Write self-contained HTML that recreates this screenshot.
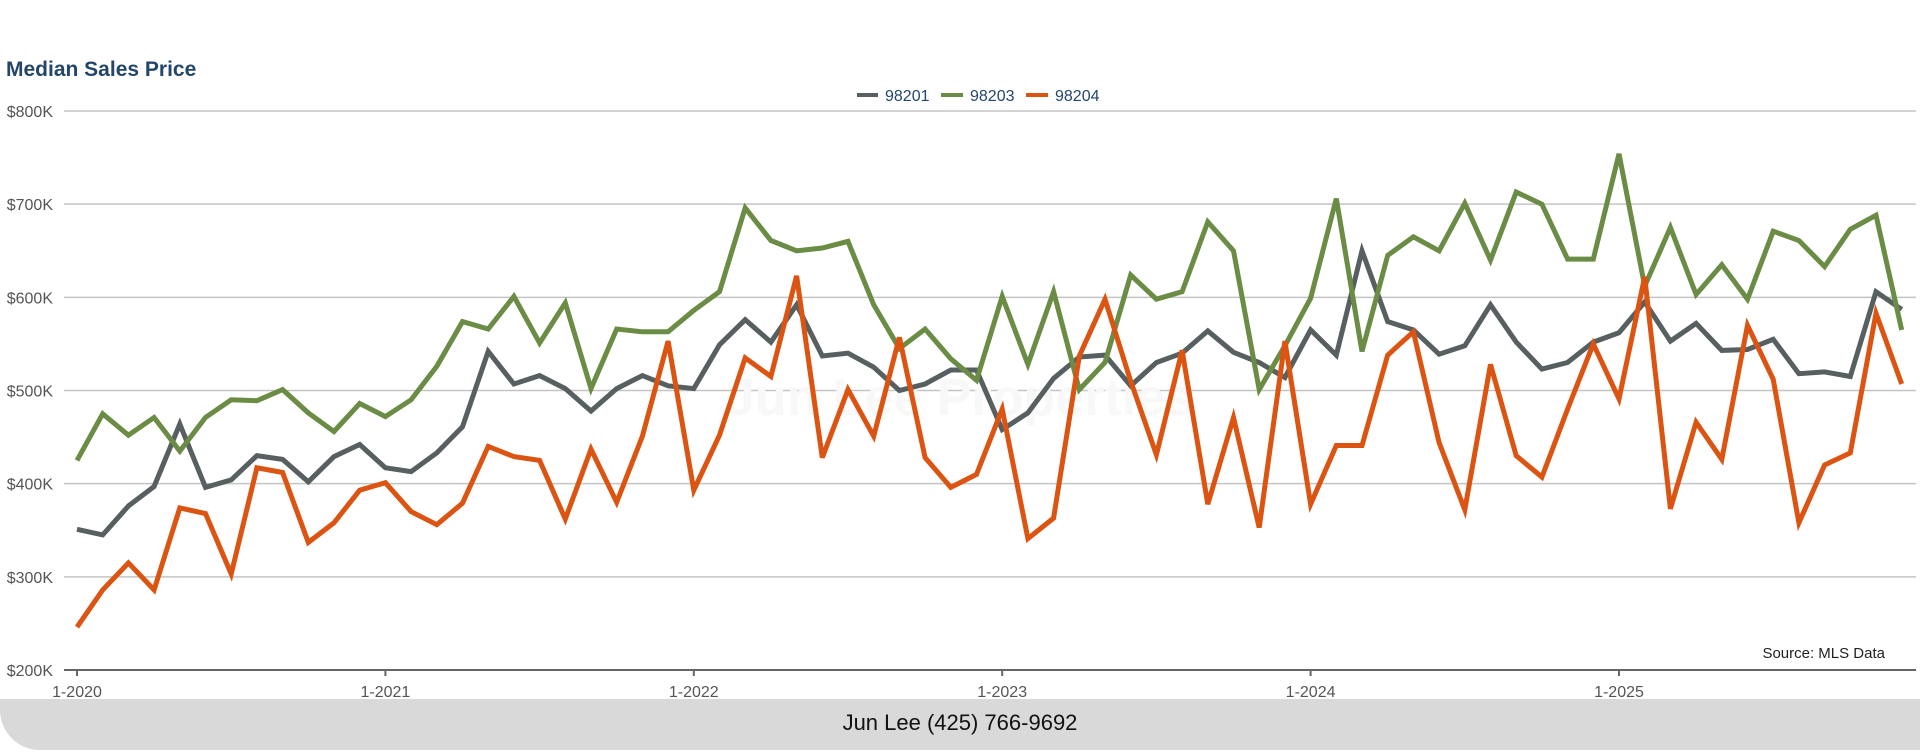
<!DOCTYPE html>
<html><head><meta charset="utf-8"><style>
body{margin:0;width:1920px;height:750px;overflow:hidden;background:#fff;font-family:"Liberation Sans",Arial,sans-serif}
</style></head><body>
<svg width="1920" height="750" xmlns="http://www.w3.org/2000/svg" id="chart">
<text x="6" y="76" font-size="21" font-weight="bold" fill="#24466b">Median Sales Price</text>
<g>
<g><rect x="857" y="93" width="21" height="4" fill="#575f61"/><text x="885" y="101" font-size="16" fill="#24466b">98201</text></g>
<g><rect x="941" y="93" width="22" height="4" fill="#6a8c45"/><text x="970" y="101" font-size="16" fill="#24466b">98203</text></g>
<g><rect x="1026" y="93" width="22" height="4" fill="#dc5412"/><text x="1055" y="101" font-size="16" fill="#24466b">98204</text></g>
</g>
<g id="grid"></g>
<text x="960" y="415" font-size="52" font-weight="bold" fill="#f8f8f8" text-anchor="middle">Jun Lee Properties</text>
<g id="lines"></g>
<text x="1885" y="658" font-size="15" fill="#222" text-anchor="end">Source: MLS Data</text>
<path d="M0,699 H1920 V750 H40 A40,40 0 0 1 0,710 Z" fill="#d9d9d9"/>
<path d="M1920,699 V750 H1880 A40,40 0 0 0 1920,710 Z" fill="#d9d9d9"/>
<text x="960" y="730" font-size="22" fill="#111" text-anchor="middle">Jun Lee (425) 766-9692</text>
</svg>
<script>
const yTicks=[200,300,400,500,600,700,800];
const xTickLabels=["1-2020","1-2021","1-2022","1-2023","1-2024","1-2025"];
const s98201=[351,345,376,397,464,396,404,430,426,402,429,442,417,413,433,461,542,507,516,502,478,502,516,505,502,549,576,552,592,537,540,525,500,507,522,522,458,476,513,536,538,505,530,540,564,541,530,514,565,538,650,574,565,539,548,592,552,523,530,552,562,595,553,572,543,544,555,518,520,515,606,587];
const s98203=[425,475,452,471,435,471,490,489,501,476,456,486,472,490,526,574,566,601,551,594,502,566,563,563,586,606,696,661,650,653,660,592,545,566,534,511,601,528,606,501,530,624,598,606,681,650,501,548,599,706,542,645,665,650,701,640,713,700,641,641,754,612,675,603,635,598,671,661,633,673,688,565];
const s98204=[246,286,315,286,374,368,303,417,412,337,358,393,401,370,356,379,440,429,425,362,437,380,451,553,393,452,535,515,623,428,501,451,557,428,396,410,480,341,363,537,598,510,431,543,378,471,353,553,378,441,441,538,563,444,372,528,430,407,480,550,491,622,373,466,426,570,512,358,420,433,583,507];
const NS="http://www.w3.org/2000/svg";
const x0=77, step=25.7, yTop=111, yBot=670;
function X(i){return x0+i*step;}
function Y(v){return yBot-(v-200)/600*(yBot-yTop);}
const grid=document.getElementById('grid');
yTicks.forEach(v=>{
  const l=document.createElementNS(NS,'line');
  l.setAttribute('x1',64);l.setAttribute('x2',1916);l.setAttribute('y1',Y(v));l.setAttribute('y2',Y(v));
  l.setAttribute('stroke',v===200?'#666':'#c4c4c4');l.setAttribute('stroke-width',v===200?2:1.5);
  
  
  grid.appendChild(l);
  const t=document.createElementNS(NS,'text');
  t.setAttribute('x',53);t.setAttribute('y',Y(v)+6);t.setAttribute('text-anchor','end');
  t.setAttribute('font-size','16');t.setAttribute('fill','#555');t.textContent='$'+v+'K';
  
  
  grid.appendChild(t);
});
xTickLabels.forEach((lab,k)=>{
  const x=X(k*12);
  const tk=document.createElementNS(NS,'line');
  tk.setAttribute('x1',x);tk.setAttribute('x2',x);tk.setAttribute('y1',670);tk.setAttribute('y2',676);
  tk.setAttribute('stroke','#666');tk.setAttribute('stroke-width',2);
  
  
  grid.appendChild(tk);
  const t=document.createElementNS(NS,'text');
  t.setAttribute('x',x);t.setAttribute('y',697);t.setAttribute('text-anchor','middle');
  t.setAttribute('font-size','16');t.setAttribute('fill','#555');t.textContent=lab;
  
  
  grid.appendChild(t);
});
const lines=document.getElementById('lines');
[[s98201,'#575f61','line-98201'],[s98203,'#6a8c45','line-98203'],[s98204,'#dc5412','line-98204']].forEach(([d,c,n])=>{
  const p=document.createElementNS(NS,'polyline');
  p.setAttribute('points',d.map((v,i)=>X(i).toFixed(1)+','+Y(v).toFixed(1)).join(' '));
  p.setAttribute('fill','none');p.setAttribute('stroke',c);p.setAttribute('stroke-width',5);
  p.setAttribute('stroke-linejoin','miter');
  
  
  lines.appendChild(p);
});
</script>
</body></html>
